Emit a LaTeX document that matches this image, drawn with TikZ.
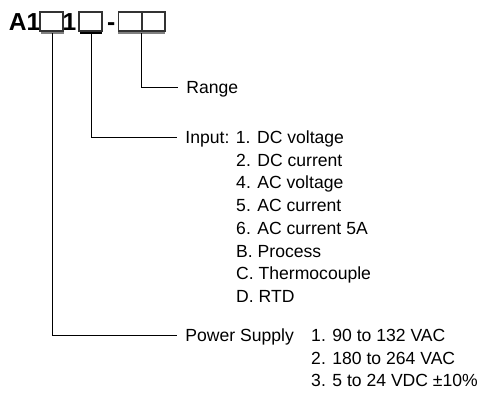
\documentclass[tikz,border=0pt]{standalone}
\usepackage{fontspec}
\setmainfont{Liberation Sans}
\begin{document}
\begin{tikzpicture}[font=\fontsize{15}{18}\selectfont,
          ttl/.style={font=\fontsize{21}{24}\selectfont\bfseries, inner sep=0pt, anchor=base west},
          sq/.style={draw=black!80, line width=0.9pt, minimum width=0.69cm, minimum height=0.57cm, inner sep=0pt},
          lbl/.style={anchor=west, inner xsep=7pt, inner ysep=0pt, text height=10.8pt, text depth=0pt},
          itm/.style={anchor=west, inner sep=0pt, text height=10.8pt, text depth=0pt},
          ul/.style={line width=0.9pt},
          wire/.style={line width=0.8pt}]
        \useasboundingbox (0,0) rectangle (14.52,11.88);
        % part number
        \node[ttl] (a1) at (0.26,10.965) {A1};
        \node[sq] (b1) at (1.545,11.235) {};
        \node[ttl] (one) at (1.875,10.965) {1};
        \node[sq] (b2) at (2.715,11.235) {};
        \node[ttl] (dash) at (3.21,10.965) {-};
        \node[sq] (b3) at (3.8925,11.235) {};
        \node[sq] (b4) at (4.605,11.235) {};
        \draw[ul, black!50] (1.23,10.89) -- coordinate[pos=0.5] (m1) (1.92,10.89);
        \draw[ul] (2.40,10.89) -- coordinate[pos=0.5] (m2) (3.06,10.89);
        \draw[ul, black!50] (3.54,10.89) -- coordinate[pos=0.5] (m3) (4.95,10.89);
        % labels
        \node[lbl] (rng) at (5.34,9.27) {Range};
        \node[lbl] (inp) at (5.31,7.77) {Input: 1. DC voltage};
        \node[lbl] (pwr) at (5.31,1.83) {Power Supply};
        \foreach \t [count=\i] in {2. DC current, 4. AC voltage, 5. AC current, 6. AC current 5A,
                                   B. Process, C. Thermocouple, D. RTD} {
          \node[itm] (in\i) at (7.08,7.77-0.6825*\i) {\t};
        }
        \foreach \t [count=\i from 0] in {1. 90 to 132 VAC, 2. 180 to 264 VAC, 3. 5 to 24 VDC ±10\%} {
          \node[itm] (ps\i) at (9.33,1.83-0.6825*\i) {\t};
        }
        \draw[wire] (m3) |- (rng.west);
        \draw[wire] (m2) |- (inp.west);
        \draw[wire] (m1) |- (pwr.west);
      \end{tikzpicture}
\end{document}
